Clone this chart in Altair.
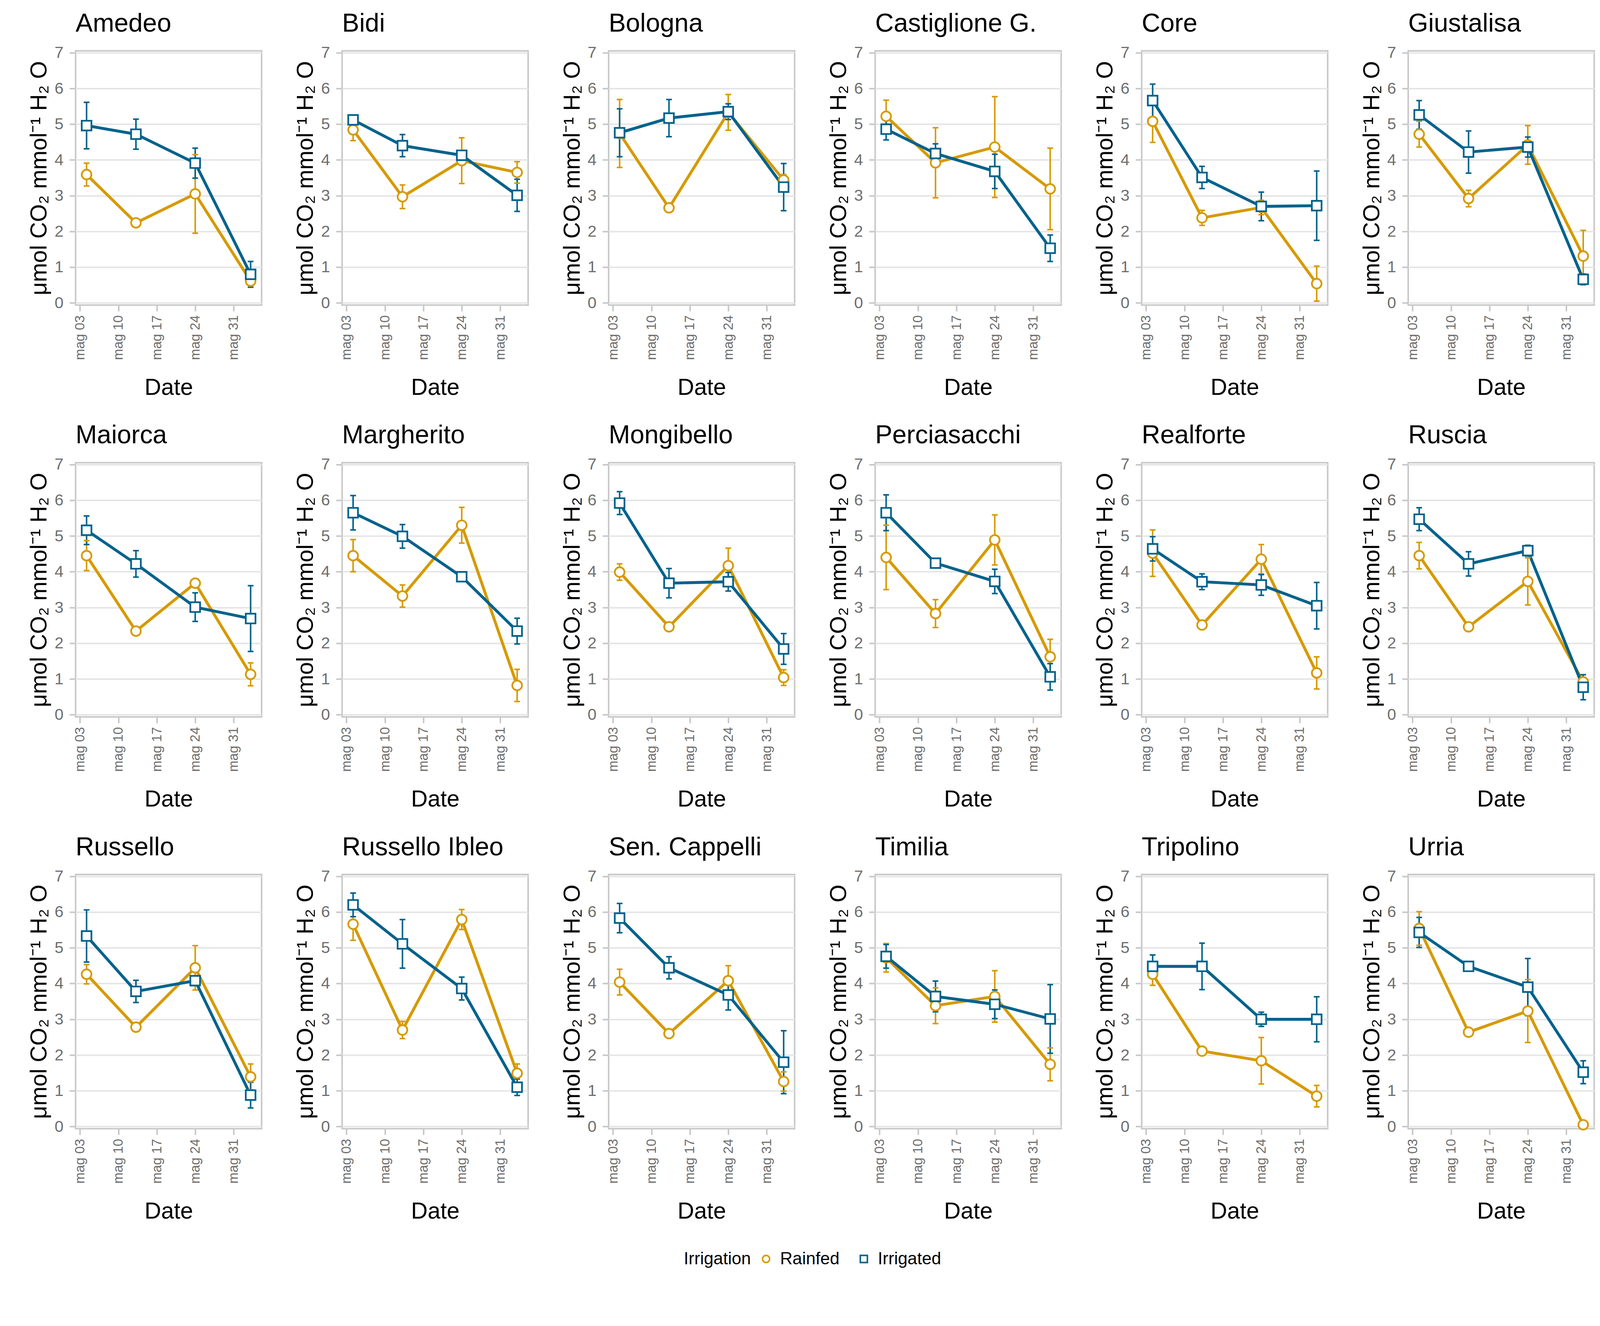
import altair as alt
import pandas as pd

varieties = ["Amedeo", "Bidi", "Bologna", "Castiglione G.", "Core", "Giustalisa",
             "Maiorca", "Margherito", "Mongibello", "Perciasacchi", "Realforte", "Ruscia",
             "Russello", "Russello Ibleo", "Sen. Cappelli", "Timilia", "Tripolino", "Urria"]

# sampling dates as day of May (34 = 3 June)
days = [4.2, 13.2, 24.0, 34.1]
tick_days = [3, 10, 17, 24, 31]
treatments = ["Rainfed", "Irrigated"]
colors = ["#D69A00", "#00628C"]
shapes = ["circle", "square"]

rainfed_mean = {
    "Amedeo": [3.59, 2.24, 3.05, 0.61], "Bidi": [4.84, 2.97, 3.98, 3.65],
    "Bologna": [4.74, 2.66, 5.33, 3.44], "Castiglione G.": [5.22, 3.92, 4.36, 3.19],
    "Core": [5.08, 2.38, 2.67, 0.54], "Giustalisa": [4.72, 2.92, 4.42, 1.31],
    "Maiorca": [4.45, 2.34, 3.68, 1.13], "Margherito": [4.45, 3.32, 5.30, 0.82],
    "Mongibello": [3.99, 2.46, 4.17, 1.04], "Perciasacchi": [4.40, 2.83, 4.89, 1.62],
    "Realforte": [4.52, 2.51, 4.35, 1.17], "Ruscia": [4.45, 2.46, 3.73, 0.92],
    "Russello": [4.26, 2.78, 4.44, 1.39], "Russello Ibleo": [5.66, 2.70, 5.79, 1.49],
    "Sen. Cappelli": [4.04, 2.60, 4.08, 1.26], "Timilia": [4.72, 3.38, 3.64, 1.74],
    "Tripolino": [4.26, 2.11, 1.84, 0.85], "Urria": [5.54, 2.64, 3.23, 0.05],
}
rainfed_err = {
    "Amedeo": [0.32, 0.05, 1.10, 0.10], "Bidi": [0.30, 0.33, 0.64, 0.30],
    "Bologna": [0.95, 0.10, 0.50, 0.15], "Castiglione G.": [0.45, 0.98, 1.41, 1.14],
    "Core": [0.59, 0.21, 0.20, 0.49], "Giustalisa": [0.36, 0.23, 0.54, 0.72],
    "Maiorca": [0.42, 0.05, 0.12, 0.32], "Margherito": [0.45, 0.31, 0.50, 0.45],
    "Mongibello": [0.23, 0.05, 0.49, 0.22], "Perciasacchi": [0.90, 0.39, 0.70, 0.49],
    "Realforte": [0.65, 0.05, 0.41, 0.45], "Ruscia": [0.37, 0.05, 0.66, 0.12],
    "Russello": [0.27, 0.05, 0.62, 0.36], "Russello Ibleo": [0.45, 0.24, 0.28, 0.26],
    "Sen. Cappelli": [0.36, 0.05, 0.42, 0.27], "Timilia": [0.40, 0.50, 0.72, 0.46],
    "Tripolino": [0.31, 0.05, 0.65, 0.30], "Urria": [0.47, 0.08, 0.88, 0.05],
}
irrigated_mean = {
    "Amedeo": [4.96, 4.72, 3.91, 0.80], "Bidi": [5.12, 4.40, 4.13, 3.01],
    "Bologna": [4.76, 5.17, 5.35, 3.24], "Castiglione G.": [4.86, 4.18, 3.68, 1.53],
    "Core": [5.66, 3.51, 2.70, 2.72], "Giustalisa": [5.26, 4.22, 4.36, 0.66],
    "Maiorca": [5.16, 4.22, 3.01, 2.69], "Margherito": [5.65, 4.99, 3.86, 2.34],
    "Mongibello": [5.92, 3.68, 3.72, 1.84], "Perciasacchi": [5.65, 4.24, 3.73, 1.06],
    "Realforte": [4.64, 3.72, 3.63, 3.05], "Ruscia": [5.47, 4.22, 4.59, 0.77],
    "Russello": [5.33, 3.78, 4.08, 0.88], "Russello Ibleo": [6.20, 5.11, 3.86, 1.10],
    "Sen. Cappelli": [5.83, 4.44, 3.68, 1.80], "Timilia": [4.76, 3.64, 3.42, 3.01],
    "Tripolino": [4.48, 4.48, 3.00, 3.00], "Urria": [5.43, 4.48, 3.90, 1.52],
}
irrigated_err = {
    "Amedeo": [0.65, 0.42, 0.42, 0.36], "Bidi": [0.10, 0.31, 0.10, 0.45],
    "Bologna": [0.67, 0.52, 0.22, 0.66], "Castiglione G.": [0.30, 0.27, 0.48, 0.37],
    "Core": [0.46, 0.31, 0.40, 0.97], "Giustalisa": [0.40, 0.59, 0.28, 0.15],
    "Maiorca": [0.40, 0.37, 0.40, 0.92], "Margherito": [0.48, 0.33, 0.05, 0.36],
    "Mongibello": [0.32, 0.41, 0.26, 0.43], "Perciasacchi": [0.50, 0.05, 0.34, 0.37],
    "Realforte": [0.34, 0.22, 0.29, 0.65], "Ruscia": [0.32, 0.34, 0.15, 0.35],
    "Russello": [0.73, 0.31, 0.12, 0.36], "Russello Ibleo": [0.33, 0.68, 0.32, 0.23],
    "Sen. Cappelli": [0.41, 0.31, 0.42, 0.88], "Timilia": [0.33, 0.43, 0.40, 0.96],
    "Tripolino": [0.32, 0.65, 0.20, 0.63], "Urria": [0.42, 0.07, 0.80, 0.32],
}

rows = []
for v in varieties:
    for trt, means, errs in (("Rainfed", rainfed_mean[v], rainfed_err[v]),
                             ("Irrigated", irrigated_mean[v], irrigated_err[v])):
        for d, m, e in zip(days, means, errs):
            rows.append({"Variety": v, "Irrigation": trt, "day": d,
                         "value": m, "lo": m - e, "hi": m + e})
df = pd.DataFrame(rows)

FONT = "Liberation Sans"
YTITLE = "\u03bcmol CO\u2082 mmol\u207b\u00b9 H\u2082 O"
PW, PH = 485, 663

xscale = alt.Scale(domain=[2.2, 36.1], nice=False, zero=False)
yscale = alt.Scale(domain=[-0.06, 7.05], nice=False, zero=False)
xaxis = alt.Axis(values=tick_days, grid=False, title="Date", labelAngle=270,
                 labelFontSize=35, titlePadding=44, labelPadding=10,
                 labelExpr="'mag ' + (datum.value < 10 ? '0' : '') + datum.value")
yaxis = alt.Axis(values=list(range(8)), grid=True, title=YTITLE,
                 labelFontSize=42, labelPadding=16, titlePadding=8)
# legend scales (explicit domain) for the points
cscale = alt.Scale(domain=treatments, range=colors)
sscale = alt.Scale(domain=treatments, range=shapes)
# data-driven (alphabetical: Irrigated, Rainfed) scales for lines / error bars
line_scale = alt.Scale(range=[colors[1], colors[0]])
legend = alt.Legend(title="Irrigation", orient="none", legendX=1586, legendY=3128,
                    direction="horizontal", titleOrient="left")


def panel(v):
    base = alt.Chart().transform_filter(alt.datum.Variety == v)
    x = alt.X("day:Q", scale=xscale, axis=xaxis)
    stroke = alt.Stroke("Irrigation:N", scale=line_scale, legend=None)
    fill = alt.Fill("Irrigation:N", scale=line_scale, legend=None)
    line = base.mark_line(strokeWidth=7.5).encode(
        x=x, y=alt.Y("value:Q", scale=yscale, axis=yaxis), stroke=stroke)
    rule = base.mark_rule(strokeWidth=4).encode(
        x=x, y=alt.Y("lo:Q", scale=yscale, axis=yaxis), y2="hi:Q", stroke=stroke)
    tlo = base.mark_tick(orient="horizontal", size=15, thickness=4, opacity=1).encode(
        x=x, y=alt.Y("lo:Q", scale=yscale, axis=yaxis), fill=fill)
    thi = base.mark_tick(orient="horizontal", size=15, thickness=4, opacity=1).encode(
        x=x, y=alt.Y("hi:Q", scale=yscale, axis=yaxis), fill=fill)
    pts = base.mark_point(filled=False, fill="white", strokeWidth=4.5, size=640,
                          opacity=1).encode(
        x=x, y=alt.Y("value:Q", scale=yscale, axis=yaxis),
        color=alt.Color("Irrigation:N", scale=cscale, legend=legend),
        shape=alt.Shape("Irrigation:N", scale=sscale, legend=legend))
    return alt.layer(line, rule, tlo, thi, pts).properties(
        width=PW, height=PH,
        title=alt.TitleParams(text=v, anchor="start", frame="group", fontSize=67,
                              font=FONT, fontWeight="normal", color="black",
                              baseline="alphabetic", offset=-33))


chart = alt.concat(*[panel(v) for v in varieties], columns=6, data=df,
                   spacing={"row": 56, "column": 81}).configure_view(
    stroke="#c8c8c8", strokeWidth=4
).configure_axis(
    labelFont=FONT, labelColor="#6e6e6e",
    titleFont=FONT, titleFontSize=60, titleFontWeight="normal", titleColor="black",
    domain=False, tickColor="#c8c8c8", tickWidth=4, tickSize=16,
    gridColor="#e5e5e5", gridWidth=4
).configure_legend(
    titleFont=FONT, titleFontSize=45, titleFontWeight="normal", titleColor="black",
    labelFont=FONT, labelFontSize=45, labelColor="black", labelOffset=14,
    labelLimit=600, titleLimit=600,
    symbolSize=340, symbolStrokeWidth=4, symbolFillColor="white", columnPadding=40,
    titlePadding=16
)

try:
    chart.properties(
        padding={"left": 62, "top": -13, "right": 5, "bottom": 10}
    ).save("out.html", embed_options={"renderer": "svg", "actions": False})
except Exception:
    chart.properties(
        padding={"left": 62, "top": 0, "right": 5, "bottom": 10}
    ).save("out.html", embed_options={"renderer": "svg", "actions": False})
